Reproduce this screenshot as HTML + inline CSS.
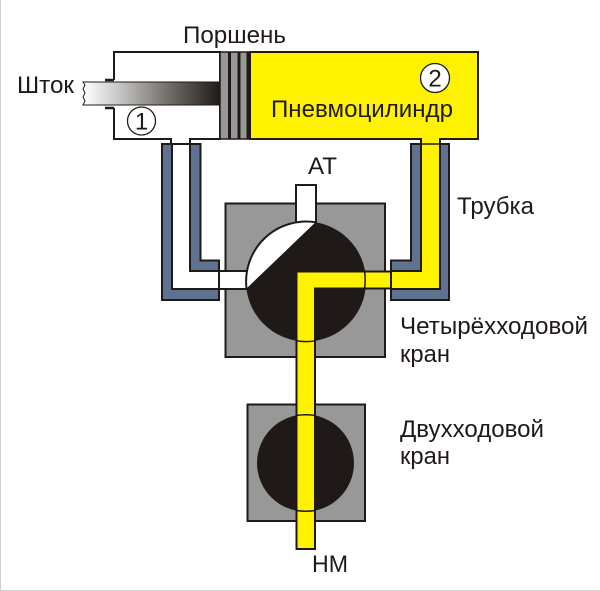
<!DOCTYPE html>
<html>
<head>
<meta charset="utf-8">
<style>
html,body{margin:0;padding:0;background:#fff;width:600px;height:591px;overflow:hidden}
svg{display:block}
text{font-family:"Liberation Sans",sans-serif;font-size:24px;fill:#1f1a17}
</style>
</head>
<body>
<svg width="600" height="591" viewBox="0 0 600 591" xmlns="http://www.w3.org/2000/svg">
<defs>
<linearGradient id="rod" x1="0" x2="1" y1="0" y2="0">
<stop offset="0" stop-color="#ffffff"/>
<stop offset="0.25" stop-color="#c9c9c8"/>
<stop offset="0.6" stop-color="#77736f"/>
<stop offset="1" stop-color="#1f1a17"/>
</linearGradient>
</defs>
<rect x="0" y="0" width="600" height="591" fill="#fff"/>
<rect x="0" y="0" width="1" height="591" fill="#d0d0d0"/>
<rect x="0" y="590" width="600" height="1" fill="#d0d0d0"/>

<g stroke="#1f1a17" stroke-width="2" stroke-linejoin="miter">
<!-- four-way valve square -->
<rect x="225.500" y="203.500" width="159.500" height="153.500" fill="#999898"/>
<!-- two-way valve square -->
<rect x="247.500" y="404.500" width="117.500" height="116.500" fill="#999898"/>

<!-- left tube -->
<path d="M162 144H172V289H190V144H200.500V260.500H219V300H162Z" fill="#5f7290"/>
<path d="M172 144H190V271H219V289H172Z" fill="#fff"/>
<!-- right tube -->
<path d="M411 144H449V300H391V260.500H411Z" fill="#5f7290"/>

<!-- left connector -->
<rect x="219" y="271" width="28" height="18" fill="#fff"/>
<!-- AT stub -->
<rect x="296" y="185" width="20" height="38" fill="#fff"/>

<!-- cylinder -->
<path d="M114 80V52H220V139H190V144H171V139H114V108" fill="#fff"/>
<path d="M105 80H114M105 108H114" fill="none" stroke-width="2.500"/>
<!-- yellow chamber and right tube as one shape -->
<path d="M250 52H478V139H440V289H391V271H421V139H250Z" fill="#fff200"/>
<path d="M421 144H440" fill="none" stroke-width="1.500"/>
</g>

<!-- rod -->
<path d="M83 82H220V105H83L85 101L83 97L85 93L83 89L85 85Z" fill="url(#rod)" stroke="none"/>
<path d="M220 82H83L85 85L83 89L85 93L83 97L85 101L83 105H220" fill="none" stroke="#1f1a17" stroke-width="1"/>

<!-- piston -->
<rect x="220" y="52" width="30" height="87" fill="#999898" stroke="#1f1a17" stroke-width="1.500"/>
<rect x="228" y="52" width="3" height="87" fill="#1f1a17"/>
<rect x="237.500" y="52" width="3" height="87" fill="#1f1a17"/>
<rect x="246.500" y="52" width="3.500" height="87" fill="#1f1a17"/>

<!-- circle 4-way -->
<circle cx="306" cy="281.500" r="60" fill="#1f1a17"/>
<path d="M315.500 222.300A60 60 0 0 0 246.500 288.500Z" fill="#fff"/>
<path d="M315.500 222.300A60 60 0 0 0 246.500 288.500" fill="none" stroke="#1f1a17" stroke-width="2"/>

<!-- circle 2-way -->
<circle cx="305.500" cy="463" r="48.500" fill="#1f1a17"/>

<!-- yellow main pipe -->
<path d="M296.500 271.500H391V288.500H315V549H296.500Z" fill="#fff200" stroke="#1f1a17" stroke-width="2"/>
<!-- arcs over pipe -->
<path d="M364.500 271A60 60 0 0 1 364.500 289" fill="none" stroke="#1f1a17" stroke-width="1.500"/>
<path d="M296.500 340.800Q306 342.500 315 340.800" fill="none" stroke="#1f1a17" stroke-width="1.500"/>
<path d="M296.500 415.500Q306 414 315 415.500" fill="none" stroke="#1f1a17" stroke-width="1.500"/>
<path d="M296.500 510.500Q306 512 315 510.500" fill="none" stroke="#1f1a17" stroke-width="1.500"/>

<!-- numbered circles -->
<circle cx="141.500" cy="121" r="14" fill="#fff" stroke="#1f1a17" stroke-width="1.300"/>
<circle cx="435" cy="78" r="14.500" fill="#fff" stroke="#1f1a17" stroke-width="1.300"/>
<text x="141.500" y="129.500" text-anchor="middle">1</text>
<text x="435" y="86.500" text-anchor="middle">2</text>

<!-- labels -->
<text x="17" y="93" textLength="57" lengthAdjust="spacingAndGlyphs">Шток</text>
<text x="183" y="43" textLength="103" lengthAdjust="spacingAndGlyphs">Поршень</text>
<text x="271" y="117" textLength="182" lengthAdjust="spacingAndGlyphs">Пневмоцилиндр</text>
<text x="308" y="174" textLength="29" lengthAdjust="spacingAndGlyphs">АТ</text>
<text x="457" y="214" textLength="77" lengthAdjust="spacingAndGlyphs">Трубка</text>
<text x="400" y="334" textLength="188" lengthAdjust="spacingAndGlyphs">Четырёхходовой</text>
<text x="400" y="362" textLength="50" lengthAdjust="spacingAndGlyphs">кран</text>
<text x="400" y="437" textLength="144" lengthAdjust="spacingAndGlyphs">Двухходовой</text>
<text x="400" y="464" textLength="50" lengthAdjust="spacingAndGlyphs">кран</text>
<text x="312" y="572" textLength="36" lengthAdjust="spacingAndGlyphs">НМ</text>

<!-- divider where the yellow connector meets the right tube -->
<path d="M391 271V289" fill="none" stroke="#1f1a17" stroke-width="2"/>
</svg>
</body>
</html>
